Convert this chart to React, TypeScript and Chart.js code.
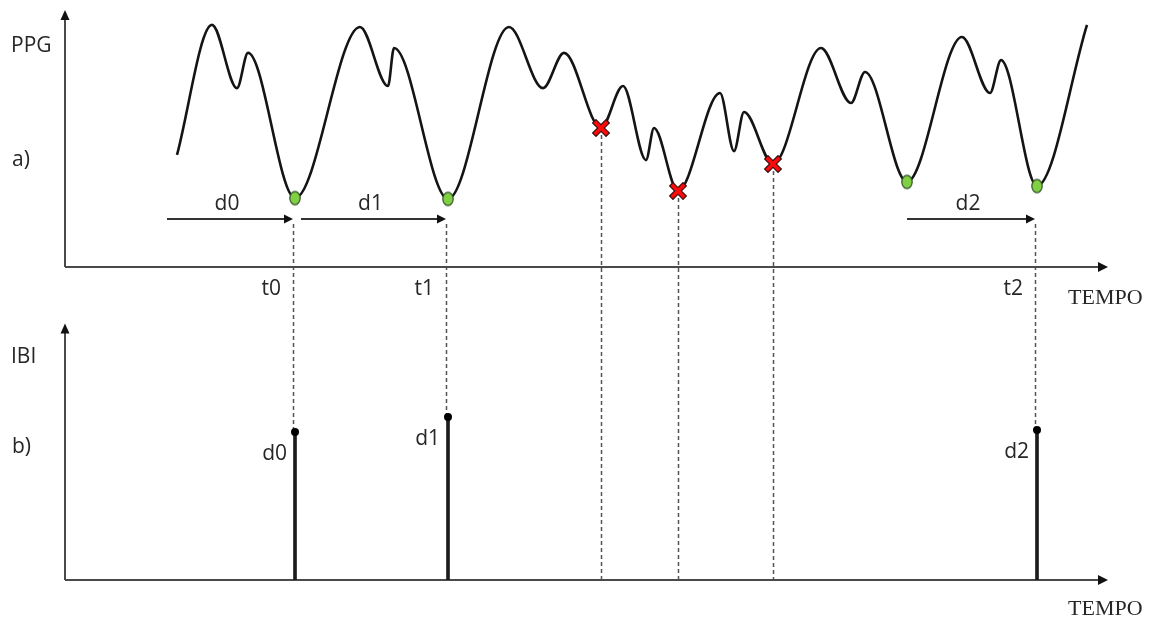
import { useEffect, useRef } from "react";
import { Chart, registerables } from "chart.js";

Chart.register(...registerables);

// PPG trace: time (ms) and normalised amplitude at the turning points of the waveform
const ppgTime = [560, 735, 860, 915, 1150, 1475, 1615, 1645, 1915, 2220, 2390, 2495, 2680, 2790, 2905, 2945, 3065, 3275, 3345, 3395, 3540, 3780, 3930, 4000, 4210, 4485, 4625, 4680, 4860, 5110];
const ppgAmp = [0.436, 0.942, 0.696, 0.833, 0.268, 0.934, 0.704, 0.852, 0.265, 0.934, 0.696, 0.833, 0.541, 0.704, 0.416, 0.541, 0.296, 0.677, 0.451, 0.603, 0.401, 0.852, 0.638, 0.759, 0.331, 0.895, 0.677, 0.805, 0.315, 0.942];

// Minima kept as beat onsets (green) and minima rejected as artefacts (red)
const acceptedMinima = [1150, 1915, 4210, 4860];
const rejectedMinima = [2680, 3065, 3540];

// Beats that produce an inter-beat interval sample
const beatTimes = [1150, 1915, 4860];
const beatLabels = ["t0", "t1", "t2"];
const intervalStart = [510, 1180, 4210];
const intervalLabels = ["d0", "d1", "d2"];
const ibiValues = [695, 765, 705]; // ms

const panelLabels = ["PPG", "a)", "IBI", "b)"];
const timeAxisLabel = "TEMPO";

const TIME_MAX = 5200;
const TIME_AXIS_END = 5215;
const IBI_MAX = 1470;
const IBI_AXIS_TOP = 1205;
const PPG_MAX = 1;
const ARROW_LEVEL = 0.187;

const SANS = '"Open Sans", "Noto Sans", sans-serif';
const TEXT_COLOR = "#262626";

const ampAt = (t: number) => ppgAmp[ppgTime.indexOf(t)];

function makeEllipse(): HTMLCanvasElement {
  const c = document.createElement("canvas");
  c.width = 14;
  c.height = 17;
  const g = c.getContext("2d")!;
  g.beginPath();
  g.ellipse(7, 8.5, 5.2, 6.7, 0, 0, Math.PI * 2);
  g.fillStyle = "#7fd043";
  g.fill();
  g.lineWidth = 1.2;
  g.strokeStyle = "#34502a";
  g.stroke();
  return c;
}

function makeCross(): HTMLCanvasElement {
  const c = document.createElement("canvas");
  c.width = 18;
  c.height = 18;
  const g = c.getContext("2d")!;
  const d = 5;
  const path = () => {
    g.beginPath();
    g.moveTo(9 - d, 9 - d);
    g.lineTo(9 + d, 9 + d);
    g.moveTo(9 + d, 9 - d);
    g.lineTo(9 - d, 9 + d);
  };
  g.lineCap = "square";
  path();
  g.lineWidth = 6;
  g.strokeStyle = "#3a0f0f";
  g.stroke();
  path();
  g.lineWidth = 3.6;
  g.strokeStyle = "#ff0a0a";
  g.stroke();
  return c;
}

function arrowHead(ctx: CanvasRenderingContext2D, x: number, y: number, dir: "right" | "up", len: number, half: number) {
  ctx.beginPath();
  if (dir === "right") {
    ctx.moveTo(x, y);
    ctx.lineTo(x - len, y - half);
    ctx.lineTo(x - len, y + half);
  } else {
    ctx.moveTo(x, y);
    ctx.lineTo(x - half, y + len);
    ctx.lineTo(x + half, y + len);
  }
  ctx.closePath();
  ctx.fill();
}

const diagramPlugin = {
  id: "ppgDiagram",
  beforeDatasetsDraw(chart: any) {
    const { ctx, scales } = chart;
    const x = scales.x;
    const yp = scales.yPPG;
    const yi = scales.yIBI;
    ctx.save();

    // dashed guides from the detected minima down to the IBI panel
    ctx.setLineDash([4, 3]);
    ctx.strokeStyle = "#555";
    ctx.lineWidth = 1.5;
    beatTimes.forEach((t, i) => {
      const px = Math.round(x.getPixelForValue(t)) - 1.5;
      ctx.beginPath();
      ctx.moveTo(px, yp.getPixelForValue(ARROW_LEVEL) + 5);
      ctx.lineTo(px, yi.getPixelForValue(ibiValues[i]));
      ctx.stroke();
    });
    rejectedMinima.forEach((t) => {
      const px = Math.round(x.getPixelForValue(t)) + 0.5;
      ctx.beginPath();
      ctx.moveTo(px, yp.getPixelForValue(ampAt(t)));
      ctx.lineTo(px, yi.getPixelForValue(0));
      ctx.stroke();
    });
    ctx.setLineDash([]);

    // axes with arrow heads
    ctx.strokeStyle = "#4a4a4a";
    ctx.fillStyle = "#111";
    ctx.lineWidth = 2;
    const x0 = x.getPixelForValue(0);
    const xEnd = x.getPixelForValue(TIME_AXIS_END);
    const panels: [any, number][] = [
      [yp, PPG_MAX],
      [yi, IBI_AXIS_TOP],
    ];
    panels.forEach(([ys, top]) => {
      const base = ys.getPixelForValue(0);
      const tip = ys.getPixelForValue(top);
      ctx.beginPath();
      ctx.moveTo(x0, base);
      ctx.lineTo(xEnd - 6, base);
      ctx.moveTo(x0, base);
      ctx.lineTo(x0, tip + 6);
      ctx.stroke();
      arrowHead(ctx, xEnd, base, "right", 10, 5);
      arrowHead(ctx, x0, tip, "up", 10, 4.5);
    });

    // interval arrows in the PPG panel
    ctx.strokeStyle = "#333";
    ctx.fillStyle = "#111";
    ctx.lineWidth = 2;
    const ay = yp.getPixelForValue(ARROW_LEVEL);
    ctx.font = `21px ${SANS}`;
    ctx.textAlign = "center";
    ctx.textBaseline = "middle";
    intervalStart.forEach((s, i) => {
      const a = x.getPixelForValue(s);
      const b = x.getPixelForValue(beatTimes[i]) - 2;
      ctx.beginPath();
      ctx.moveTo(a, ay);
      ctx.lineTo(b - 6, ay);
      ctx.stroke();
      arrowHead(ctx, b, ay, "right", 9, 4.5);
      ctx.fillStyle = TEXT_COLOR;
      ctx.fillText(intervalLabels[i], (a + b) / 2 - 3, ay - 15);
      ctx.fillStyle = "#111";
    });
    ctx.restore();
  },
  afterDatasetsDraw(chart: any) {
    const { ctx, scales } = chart;
    const x = scales.x;
    const yp = scales.yPPG;
    const yi = scales.yIBI;
    ctx.save();
    ctx.fillStyle = TEXT_COLOR;
    ctx.font = `21px ${SANS}`;
    ctx.textBaseline = "middle";

    // beat instants under the PPG time axis
    ctx.textAlign = "right";
    const base = yp.getPixelForValue(0);
    beatTimes.forEach((t, i) => {
      ctx.fillText(beatLabels[i], x.getPixelForValue(t) - 14, base + 22);
    });

    // IBI sample labels beside each stem
    intervalLabels.forEach((lab, i) => {
      ctx.fillText(lab, x.getPixelForValue(beatTimes[i]) - 8, yi.getPixelForValue(ibiValues[i]) + 22);
    });

    // panel titles
    ctx.textAlign = "left";
    const top = yp.getPixelForValue(PPG_MAX);
    const ibiBase = yi.getPixelForValue(0);
    ctx.fillText(panelLabels[0], 11, top + 36);
    ctx.fillText(panelLabels[1], 12, top + 150);
    ctx.fillText(panelLabels[2], 11, ibiBase - 223);
    ctx.fillText(panelLabels[3], 12, ibiBase - 133);

    // time axis captions
    ctx.font = '22px "Liberation Serif", "Times New Roman", serif';
    const xl = x.getPixelForValue(TIME_AXIS_END) - 40;
    ctx.fillText(timeAxisLabel, xl, base + 31);
    ctx.fillText(timeAxisLabel, xl, ibiBase + 29);
    ctx.restore();
  },
};

export default function App() {
  const ref = useRef<HTMLCanvasElement | null>(null);

  useEffect(() => {
    if (!ref.current) return;
    const green = makeEllipse();
    const red = makeCross();
    const ppgPoints = ppgTime.map((t, i) => ({ x: t, y: ppgAmp[i] }));
    const ibiPoints = beatTimes.map((t, i) => ({ x: t, y: ibiValues[i] }));

    const chart = new Chart(ref.current, {
      type: "line",
      data: {
        datasets: [
          {
            type: "line",
            label: "PPG",
            data: ppgPoints,
            yAxisID: "yPPG",
            borderColor: "#141414",
            borderWidth: 2.6,
            pointRadius: 0,
            cubicInterpolationMode: "monotone",
            clip: false,
            order: 4,
          } as any,
          {
            type: "scatter",
            label: "Mínimos aceites",
            data: acceptedMinima.map((t) => ({ x: t, y: ampAt(t) })),
            yAxisID: "yPPG",
            pointStyle: green,
            pointRadius: 7,
            clip: false,
            order: 1,
          } as any,
          {
            type: "scatter",
            label: "Mínimos rejeitados",
            data: rejectedMinima.map((t) => ({ x: t, y: ampAt(t) })),
            yAxisID: "yPPG",
            pointStyle: red,
            pointRadius: 8,
            clip: false,
            order: 1,
          } as any,
          {
            type: "bar",
            label: "IBI",
            data: ibiPoints,
            yAxisID: "yIBI",
            backgroundColor: "#1c1c1c",
            barThickness: 3,
            order: 3,
          } as any,
          {
            type: "scatter",
            label: "IBI amostras",
            data: ibiPoints,
            yAxisID: "yIBI",
            pointRadius: 4,
            pointBackgroundColor: "#000",
            pointBorderWidth: 0,
            clip: false,
            order: 2,
          } as any,
        ],
      },
      options: {
        animation: false,
        responsive: false,
        devicePixelRatio: 1,
        events: [],
        layout: { padding: { left: 65, right: 46, top: 10, bottom: 42 } },
        plugins: { legend: { display: false }, tooltip: { enabled: false } },
        scales: {
          x: { type: "linear", min: 0, max: TIME_MAX, offset: false, display: false, grid: { offset: false } },
          yIBI: { type: "linear", position: "left", stack: "panels", stackWeight: 313, weight: 0, min: 0, max: IBI_MAX, display: false },
          yPPG: { type: "linear", position: "left", stack: "panels", stackWeight: 257, weight: 1, min: 0, max: PPG_MAX, display: false },
        } as any,
      },
      plugins: [diagramPlugin],
    });
    return () => chart.destroy();
  }, []);

  return (
    <div style={{ position: "fixed", left: 0, top: 0, width: 1151, height: 622, background: "#fff" }}>
      <canvas ref={ref} width={1151} height={622} style={{ display: "block" }} />
    </div>
  );
}
